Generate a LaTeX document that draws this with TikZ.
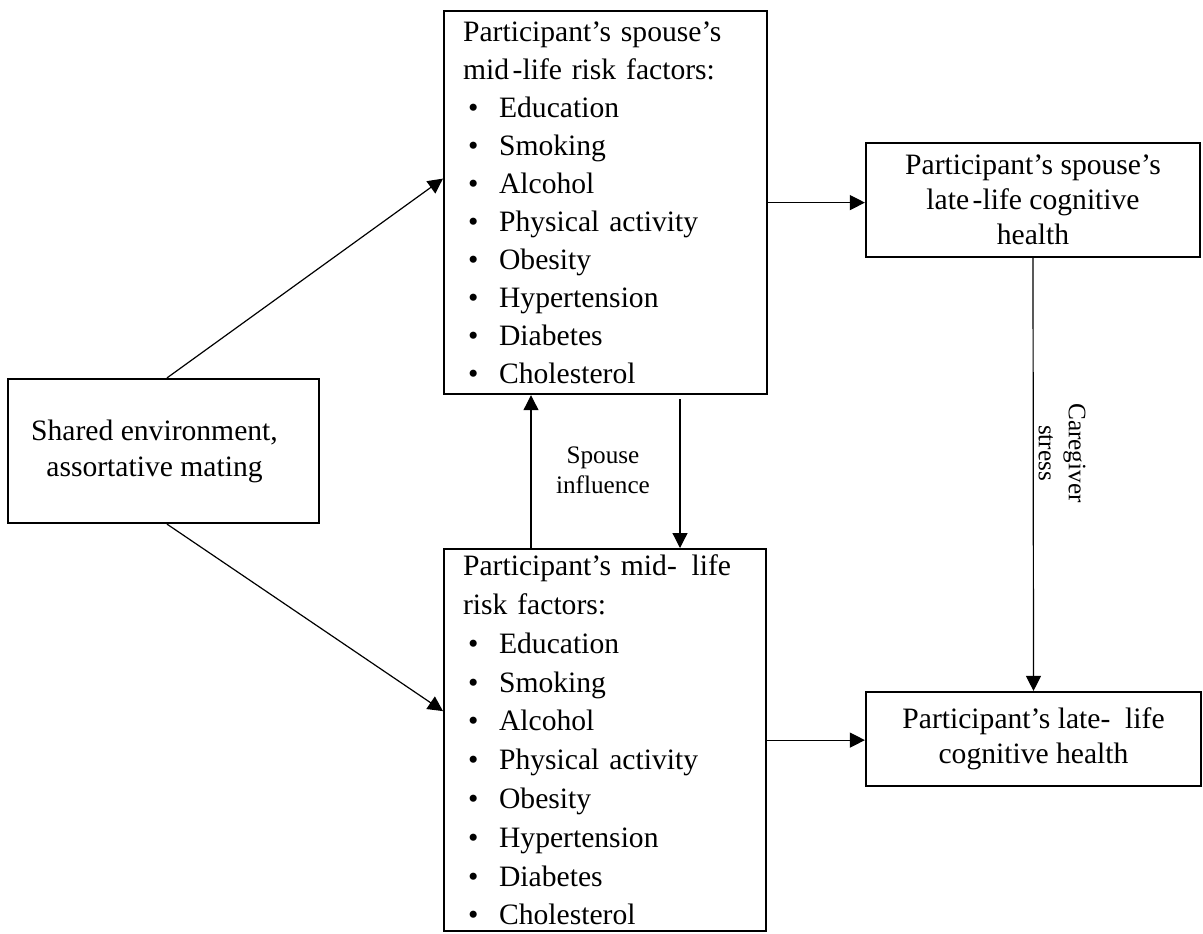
\documentclass[tikz,border=0pt]{standalone}
\usepackage{fontspec}
\setmainfont{Liberation Serif}
\usetikzlibrary{arrows.meta,calc}
\newcommand{\myitem}[1]{\hspace*{2.5pt}\makebox[15.5pt][l]{\textbullet}#1}
\begin{document}
\begin{tikzpicture}[x=0.5pt,y=-0.5pt,
  box/.style={draw, line width=1.1pt, inner sep=0pt},
  bigtext/.style={font=\fontsize{14.8pt}{19pt}\selectfont},
  smalltext/.style={font=\fontsize{12.6pt}{15pt}\selectfont},
  conn/.style={-{Triangle[length=7.5pt,width=7.5pt]}, line width=0.6pt}]
\useasboundingbox (0,0) rectangle (1203,933);
\fill[white] (0,0) rectangle (1203,933);

% Shared environment
\node[box, font=\fontsize{14.8pt}{18pt}\selectfont, minimum width=155.5pt, minimum height=72pt, align=center] (shared) at (163.5,451)
  {Shared environment,\hspace*{9pt}\\assortative mating\hspace*{9pt}};

% Participant's spouse's mid-life risk factors
\node[box, bigtext, anchor=north west, minimum width=161.5pt, minimum height=191.5pt,
  text width=142.5pt, inner xsep=9.5pt, align=left] (smid) at (443,10)
  {Participant’s spouse’s\\
   mid\hspace{0.12em}-life risk factors:\\
   \myitem{Education}\\
   \myitem{Smoking}\\
   \myitem{Alcohol}\\
   \myitem{Physical activity}\\
   \myitem{Obesity}\\
   \myitem{Hypertension}\\
   \myitem{Diabetes}\\
   \myitem{Cholesterol}};

% Participant's mid-life risk factors
\node[box, font=\fontsize{14.8pt}{19.4pt}\selectfont, anchor=north west, minimum width=161pt, minimum height=191pt,
  text width=142pt, inner xsep=9.5pt, align=left] (pmid) at (443,548)
  {Participant’s mid-\hspace{0.5em}life\\
   risk factors:\\
   \myitem{Education}\\
   \myitem{Smoking}\\
   \myitem{Alcohol}\\
   \myitem{Physical activity}\\
   \myitem{Obesity}\\
   \myitem{Hypertension}\\
   \myitem{Diabetes}\\
   \myitem{Cholesterol}};

% Spouse's late-life cognitive health
\node[box, font=\fontsize{14.8pt}{17.5pt}\selectfont, minimum width=167pt, minimum height=57pt, align=center] (slate) at (1033,200)
  {Participant’s spouse’s\\late\hspace{0.12em}-life cognitive\hspace*{8pt}\\health};

% Participant's late-life cognitive health
\node[box, font=\fontsize{14.8pt}{17.5pt}\selectfont, minimum width=167.5pt, minimum height=47pt, align=center] (plate) at (1033.5,739)
  {Participant’s late-\hspace{0.5em}life\\cognitive health};

% Labels
\node[smalltext, align=center] (spinf) at (603,470) {Spouse\\influence};
\node[smalltext, align=center, rotate=-90] (cstress) at (1062,453) {Caregiver\\stress};

% Connectors
\draw[conn] ([xshift=1.75pt]shared.north) -- ([yshift=12pt]smid.west);
\draw[conn] ([xshift=1.75pt]shared.south) -- ([yshift=14.5pt]pmid.west);
\draw[conn] (pmid.north -| 531,0) -- (smid.south -| 531,0);
\draw[conn] ([yshift=-2pt]smid.south -| 680,0) -- (pmid.north -| 680,0);
\draw[conn] (smid.east) -- (smid.east -| slate.west);
\draw[conn] (pmid.east) -- (pmid.east -| plate.west);
\draw[conn] (slate.south) -- (plate.north);
\end{tikzpicture}
\end{document}
